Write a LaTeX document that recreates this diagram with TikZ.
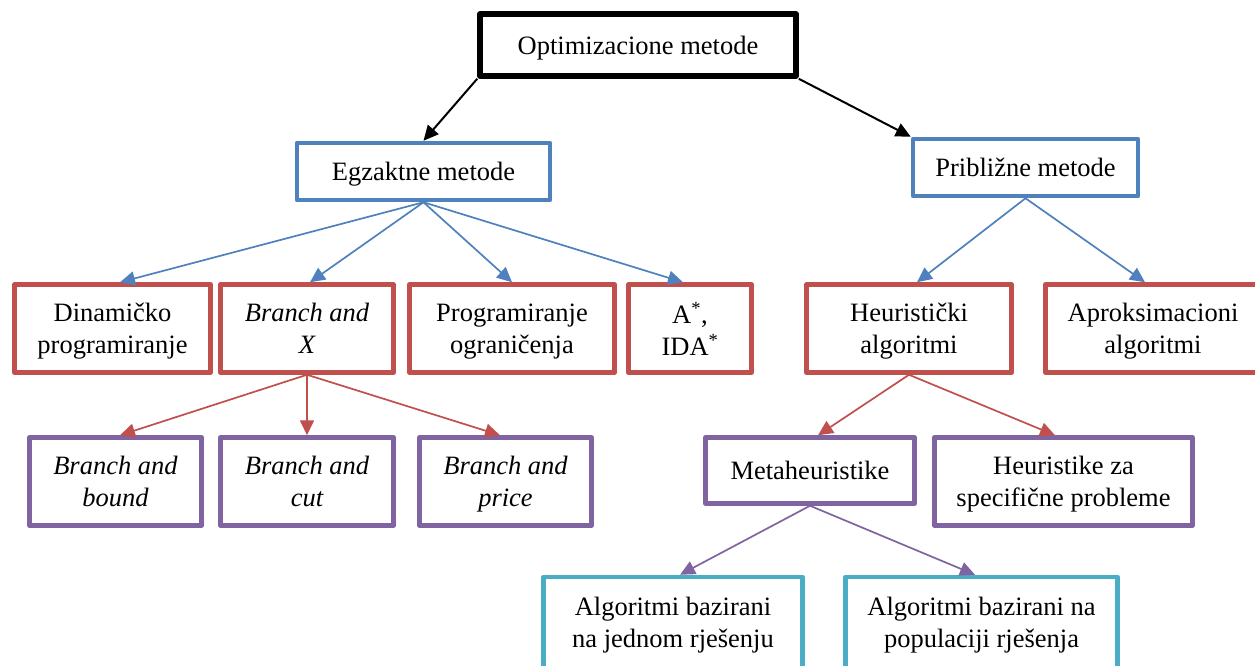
\documentclass[tikz,border=0pt]{standalone}
\usepackage{fontspec}
\setmainfont{Liberation Serif}[ItalicFont={Liberation Serif Italic}]
\usetikzlibrary{arrows.meta}
\definecolor{cblue}{HTML}{4F81BD}
\definecolor{cred}{HTML}{C0504D}
\definecolor{cpurple}{HTML}{8064A2}
\definecolor{cteal}{HTML}{4BACC6}
\tikzset{
  box/.style={draw=#1, line width=4.5pt, fill=white, align=center,
    inner sep=0pt, line join=round, text depth=0pt,
    font=\fontsize{26.5}{32}\selectfont},
  rootbox/.style={box=black, line width=5.5pt},
  link/.style={draw=#1, line width=1.7pt,
    -{Triangle[length=15pt,width=14pt]}}
}
\begin{document}
\begin{tikzpicture}[x=1pt, y=-1pt]
\clip (0,0) rectangle (1255,665);
\fill[white] (0,0) rectangle (1255,665);

% root
\node[rootbox, minimum width=316, minimum height=62] (top) at (638,45) {Optimizacione metode};

% level 1
\node[box=cblue, minimum width=253, minimum height=57] (egz) at (423.5,171.5) {Egzaktne metode};
\node[box=cblue, minimum width=225, minimum height=57] (pri) at (1025.5,167.5) {Približne metode};

% level 2
\node[box=cred, minimum width=196, minimum height=88] (dyn) at (112.5,328.5) {Dinamičko\\programiranje};
\node[box=cred, minimum width=173, minimum height=88] (bx) at (307,328.5) {\itshape Branch and\\\itshape X};
\node[box=cred, minimum width=205, minimum height=88] (prog) at (512,328.5) {Programiranje\\ograničenja};
\node[box=cred, minimum width=123, minimum height=88] (astar) at (690,328.5) {A\textsuperscript{*},\\IDA\textsuperscript{*}};
\node[box=cred, minimum width=205, minimum height=88] (heur) at (909,328.5) {Heuristički\\algoritmi};
\node[box=cred, minimum width=215, minimum height=88] (aprox) at (1153,328.5) {Aproksimacioni\\algoritmi};

% level 3
\node[box=cpurple, minimum width=172, minimum height=88] (bnb) at (115.5,481.5) {\itshape Branch and\\\itshape bound};
\node[box=cpurple, minimum width=173, minimum height=88] (bnc) at (307,481.5) {\itshape Branch and\\\itshape cut};
\node[box=cpurple, minimum width=172, minimum height=88] (bnp) at (505.5,481.5) {\itshape Branch and\\\itshape price};
\node[box=cpurple, minimum width=209, minimum height=66] (meta) at (810,470.5) {Metaheuristike};
\node[box=cpurple, minimum width=258, minimum height=88] (hsp) at (1063.5,481.5) {Heuristike za\\specifične probleme};

% level 4
\node[box=cteal, minimum width=259, minimum height=91] (jed) at (673,622.5) {Algoritmi bazirani\\na jednom rješenju};
\node[box=cteal, minimum width=272, minimum height=91] (pop) at (981.5,622.5) {Algoritmi bazirani na\\populaciji rješenja};

% connectors
\draw[link=black, line width=2pt] (top.south west) -- (egz.north);
\draw[link=black, line width=2pt] (top.south east) -- (pri.north west);

\draw[link=cblue] (egz.south) -- ([xshift=7.5]dyn.north);
\draw[link=cblue] (egz.south) -- ([xshift=3]bx.north);
\draw[link=cblue] (egz.south) -- (prog.north);
\draw[link=cblue] (egz.south) -- ([xshift=-7]astar.north);
\draw[link=cblue] (pri.south) -- ([xshift=8]heur.north);
\draw[link=cblue] (pri.south) -- ([xshift=-8]aprox.north);

\draw[link=cred] (bx.south) -- ([xshift=4.5]bnb.north);
\draw[link=cred] (bx.south) -- (bnc.north);
\draw[link=cred] (bx.south) -- ([xshift=-5.5]bnp.north);
\draw[link=cred] (heur.south) -- ([xshift=8]meta.north);
\draw[link=cred] (heur.south) -- ([xshift=-8.5]hsp.north);

\draw[link=cpurple] (meta.south) -- ([xshift=7]jed.north);
\draw[link=cpurple] (meta.south) -- ([xshift=-6.5]pop.north);
\end{tikzpicture}
\end{document}
